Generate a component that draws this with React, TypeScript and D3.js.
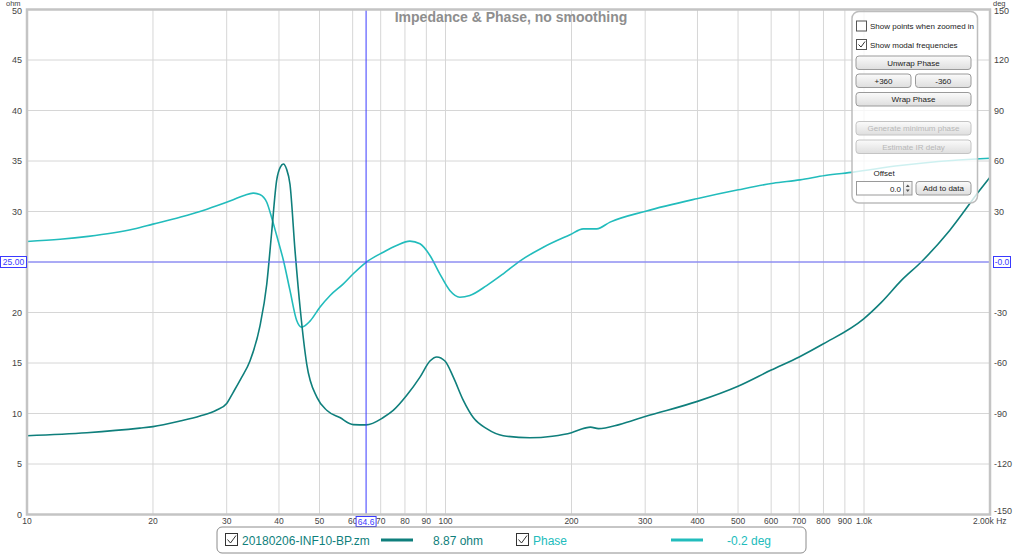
import React from "react";
import * as d3 from "d3";

const impFreq = [10, 13.9, 18.6, 20, 23.2, 25.9, 28.4, 30, 31.1, 32.5, 34.1, 36, 37.4, 38.4, 39.5, 40.3, 41, 41.7, 42.5, 43.7, 45, 46.6, 49.3, 52.1, 55.9, 60.2, 64.6, 71, 75, 80.8, 86.9, 91.8, 95.3, 99.7, 104.4, 110.3, 116.5, 125.4, 137.4, 159, 180, 200, 215, 222, 232, 260, 300, 400, 500, 600, 700, 800, 1000, 1100, 1230, 1370, 1600, 1890, 2000];
const impOhm = [7.8, 8.1, 8.55, 8.7, 9.25, 9.75, 10.35, 11.0, 12.1, 13.5, 15.2, 18.6, 22.8, 27.8, 33.1, 34.4, 34.7, 34.2, 32.7, 26.1, 20.2, 14.9, 11.6, 10.3, 9.6, 8.9, 8.87, 9.6, 10.3, 11.8, 13.6, 15.2, 15.6, 15.2, 13.6, 11.3, 9.6, 8.5, 7.8, 7.6, 7.75, 8.1, 8.55, 8.65, 8.5, 8.9, 9.7, 11.2, 12.7, 14.3, 15.6, 16.9, 19.4, 21.0, 23.2, 25.0, 28.1, 32.1, 33.4];

const phFreq = [10, 12, 14, 16, 18, 20, 23.2, 25.9, 28.4, 31.1, 33, 34.7, 36, 37.4, 38.4, 39.5, 41, 42.5, 44.1, 45.3, 47.5, 50.1, 53, 57, 60.2, 64.6, 71, 76.4, 82.2, 86.9, 91.8, 96.9, 102.4, 108.2, 114.3, 125.4, 137.4, 150.8, 171.3, 198.4, 213.4, 229.8, 247.3, 300.8, 398.4, 500.9, 607, 703, 807, 943, 1219, 1893, 2000];
const phDeg = [12.2, 13.5, 15.2, 17.2, 19.6, 22.5, 26.6, 30.0, 33.4, 37.0, 39.5, 40.9, 40.1, 35.5, 26.6, 15.7, 0.9, -16.9, -34.8, -38.7, -35, -26.9, -19.9, -13, -7, -0.2, 5.8, 9.8, 12.4, 10.8, 3.9, -7, -16.9, -20.9, -19.9, -14, -7, 0.7, 8.8, 16.2, 19.7, 19.7, 23.7, 30.2, 37.6, 42.9, 46.8, 48.8, 51.4, 53.4, 57.3, 61.3, 61.6];

const xTicks = [10, 20, 30, 40, 50, 60, 70, 80, 90, 100, 200, 300, 400, 500, 600, 700, 800, 900, 1000, 2000];
const xTickLabels = ["10", "20", "30", "40", "50", "60", "70", "80", "90", "100", "200", "300", "400", "500", "600", "700", "800", "900", "1.0k", "2.00k Hz"];
const ohmTicks = [0, 5, 10, 15, 20, 25, 30, 35, 40, 45, 50];
const degTicks = [-150, -120, -90, -60, -30, 0, 30, 60, 90, 120, 150];

const L = 27, R = 990, T = 9.5, B = 514.5;
const IMP_COLOR = "#0f7f7c";
const PH_COLOR = "#22bcbc";
const FONT = "'Liberation Sans', Arial, sans-serif";

function Button({ x, y, w, h, label, disabled }: any) {
  return (
    <g>
      <rect x={x} y={y} width={w} height={h} rx={3} fill="url(#btnGrad)" stroke={disabled ? "#c4c4c4" : "#9a9a9a"} />
      <text x={x + w / 2} y={y + h / 2 + 3} textAnchor="middle" fontSize={8} fill={disabled ? "#b8b8b8" : "#222"}>{label}</text>
    </g>
  );
}

function Check({ x, y, checked }: any) {
  return (
    <g>
      <rect x={x} y={y} width={10} height={10} fill="#fff" stroke="#555" />
      {checked && <path d={`M${x + 2},${y + 5} L${x + 4.5},${y + 7.5} L${x + 8.5},${y + 2}`} fill="none" stroke="#333" strokeWidth={1} />}
    </g>
  );
}

export default function App() {
  const x = d3.scaleLog().domain([10, 2000]).range([L, R]);
  const yO = d3.scaleLinear().domain([0, 50]).range([B, T]);
  const yD = d3.scaleLinear().domain([-150, 150]).range([B, T]);

  const impLine = d3.line<number>().x((_, i) => x(impFreq[i])).y((v) => yO(v)).curve(d3.curveMonotoneX)(impOhm) || "";
  const phLine = d3.line<number>().x((_, i) => x(phFreq[i])).y((v) => yD(v)).curve(d3.curveMonotoneX)(phDeg) || "";

  const cursorF = 64.6;
  const cx = x(cursorF);
  const cy = yO(25);

  return (
    <svg width={1024} height={554} style={{ position: "absolute", left: 0, top: 0, fontFamily: FONT }}>
      <defs>
        <linearGradient id="btnGrad" x1="0" y1="0" x2="0" y2="1">
          <stop offset="0" stopColor="#fbfbfb" />
          <stop offset="1" stopColor="#dedede" />
        </linearGradient>
        <clipPath id="plotClip">
          <rect x={L} y={T} width={R - L} height={B - T} />
        </clipPath>
      </defs>
      <rect x={0} y={0} width={1024} height={554} fill="#fff" />

      {/* grid */}
      {xTicks.slice(1, -1).map((t) => (
        <line key={"vx" + t} x1={x(t)} x2={x(t)} y1={T} y2={B} stroke="#d6d6d6" strokeWidth={1} />
      ))}
      {ohmTicks.slice(1, -1).map((t) => (
        <line key={"hy" + t} x1={L} x2={R} y1={yO(t)} y2={yO(t)} stroke="#d6d6d6" strokeWidth={1} />
      ))}

      {/* title */}
      <text x={511} y={22} textAnchor="middle" fontSize={14} fontWeight="bold" fill="#8e8e8e">Impedance &amp; Phase, no smoothing</text>

      {/* curves */}
      <g clipPath="url(#plotClip)">
        <path d={phLine} fill="none" stroke={PH_COLOR} strokeWidth={1.6} />
        <path d={impLine} fill="none" stroke={IMP_COLOR} strokeWidth={1.6} />
      </g>

      {/* cursor */}
      <line x1={L} x2={R} y1={cy} y2={cy} stroke="#6a6aff" strokeWidth={1} />
      <line x1={cx} x2={cx} y1={T} y2={B} stroke="#3a3aff" strokeWidth={1} />

      {/* border */}
      <rect x={L} y={T} width={R - L} height={B - T} fill="none" stroke="#c4c4c4" strokeWidth={2.5} />

      {/* left axis */}
      <text x={6} y={5.5} fontSize={7.5} fill="#444">ohm</text>
      {ohmTicks.filter((t) => t !== 25).map((t) => (
        <text key={"lo" + t} x={22} y={yO(t) + (t === 50 ? 4 : 3)} textAnchor="end" fontSize={9} fill="#444">{t}</text>
      ))}
      {/* right axis */}
      <text x={993} y={5.5} fontSize={7.5} fill="#444">deg</text>
      {degTicks.filter((t) => t !== 0).map((t) => (
        <text key={"ro" + t} x={994} y={yD(t) + (t === -150 ? -1 : t === 150 ? 4 : 3)} fontSize={9} fill="#444">{t}</text>
      ))}
      {/* x axis labels */}
      {xTicks.map((t, i) => (
        <text key={"xl" + t} x={t === 2000 ? 973 : x(t)} y={524} textAnchor={t === 2000 ? "start" : "middle"} fontSize={8.5} fill="#444">{xTickLabels[i]}</text>
      ))}

      {/* cursor boxes */}
      <rect x={0.5} y={256.5} width={26} height={11} fill="#fff" stroke="#3a3aff" />
      <text x={13.5} y={265} textAnchor="middle" fontSize={8.5} fill="#3a3aff">25.00</text>
      <rect x={993.5} y={256.5} width={17} height={11} fill="#fff" stroke="#3a3aff" />
      <text x={1002} y={265} textAnchor="middle" fontSize={8.5} fill="#3a3aff">-0.0</text>
      <rect x={cx - 10} y={516.5} width={20} height={10} fill="#fff" stroke="#3a3aff" />
      <text x={cx} y={524.5} textAnchor="middle" fontSize={8.5} fill="#3a3aff">64.6</text>

      {/* control panel */}
      <rect x={852} y={11.5} width={125.5} height={191.5} rx={7} fill="#fff" fillOpacity={0.78} stroke="#bdbdbd" strokeWidth={1.5} />
      <Check x={856.5} y={21} checked={false} />
      <text x={870} y={29} fontSize={8} fill="#222">Show points when zoomed in</text>
      <Check x={856.5} y={39.5} checked={true} />
      <text x={870} y={47.5} fontSize={8} fill="#222">Show modal frequencies</text>
      <Button x={856} y={56} w={115} h={13.5} label="Unwrap Phase" />
      <Button x={856} y={74} w={55} h={13.5} label="+360" />
      <Button x={915.5} y={74} w={55.5} h={13.5} label="-360" />
      <Button x={856} y={92.5} w={115} h={13.5} label="Wrap Phase" />
      <Button x={856} y={121.5} w={115} h={13.5} label="Generate minimum phase" disabled />
      <Button x={856} y={140} w={115} h={13.5} label="Estimate IR delay" disabled />
      <text x={873.5} y={176} fontSize={8} fill="#222">Offset</text>
      <rect x={856.5} y={181.5} width={47} height={13.5} fill="#fff" stroke="#9a9a9a" />
      <text x={901} y={191.5} textAnchor="end" fontSize={8} fill="#222">0.0</text>
      <rect x={903.5} y={181.5} width={8.5} height={13.5} fill="url(#btnGrad)" stroke="#9a9a9a" />
      <path d="M905.8,187 L907.75,184.5 L909.7,187 Z" fill="#555" />
      <path d="M905.8,189.5 L907.75,192 L909.7,189.5 Z" fill="#555" />
      <Button x={916} y={181.5} w={55} h={13.5} label="Add to data" />

      {/* bottom legend */}
      <rect x={217} y={527} width={589} height={26} rx={5} fill="#fff" stroke="#8c8c8c" strokeWidth={1} />
      <rect x={225.5} y={533.5} width={12} height={12} fill="#fff" stroke="#333" />
      <path d="M227.5,539.5 L230.5,543 L236,535.5" fill="none" stroke="#333" strokeWidth={1} />
      <text x={242} y={544.5} fontSize={12} fill={IMP_COLOR}>20180206-INF10-BP.zm</text>
      <line x1={381} x2={413} y1={540} y2={540} stroke={IMP_COLOR} strokeWidth={3} />
      <text x={433} y={544.5} fontSize={12} fill={IMP_COLOR}>8.87 ohm</text>
      <rect x={516.5} y={533.5} width={12} height={12} fill="#fff" stroke="#333" />
      <path d="M518.5,539.5 L521.5,543 L527,535.5" fill="none" stroke="#333" strokeWidth={1} />
      <text x={533} y={544.5} fontSize={12} fill={PH_COLOR}>Phase</text>
      <line x1={671} x2={703} y1={540} y2={540} stroke={PH_COLOR} strokeWidth={3} />
      <text x={727} y={544.5} fontSize={12} fill={PH_COLOR}>-0.2 deg</text>
    </svg>
  );
}
